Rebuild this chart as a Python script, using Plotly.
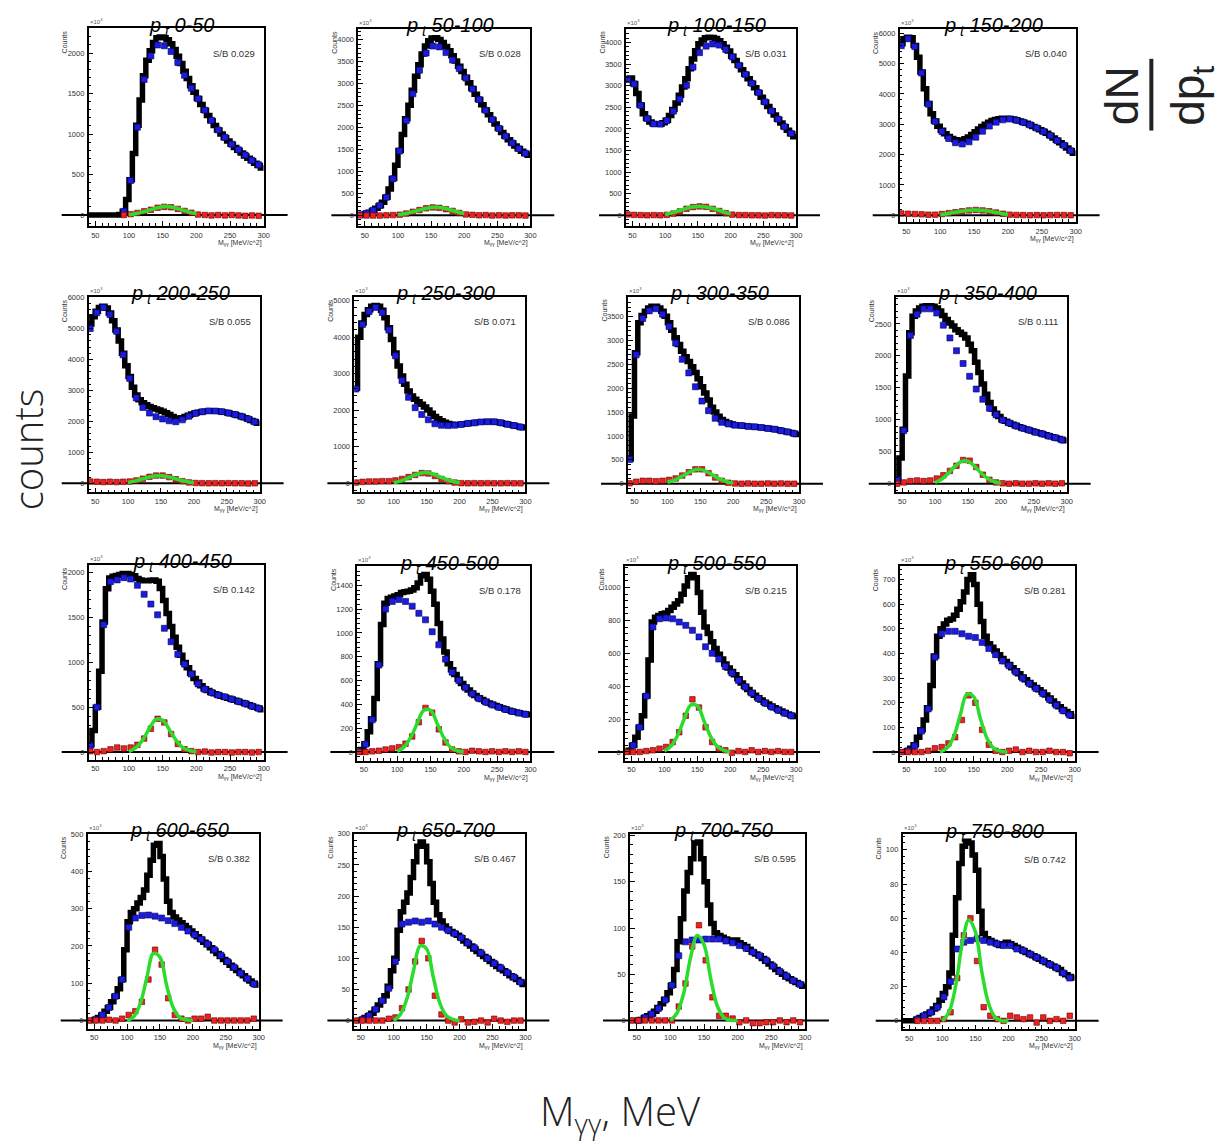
import plotly.graph_objects as go

W, H = 1229, 1146

# ---------------- data ----------------
PT_BINS = ["0-50", "50-100", "100-150", "150-200", "200-250", "250-300", "300-350", "350-400",
           "400-450", "450-500", "500-550", "550-600", "600-650", "650-700", "700-750", "750-800"]
SB_RATIO = ["0.029", "0.028", "0.031", "0.040", "0.055", "0.071", "0.086", "0.111",
            "0.142", "0.178", "0.215", "0.281", "0.382", "0.467", "0.595", "0.742"]
Y_MIN = [-135, -242, -246, -230, -290, -245, -180, -135, -85, -73, -53, -35, -22, -13, -9, -5]
Y_MAX = [2307, 4250, 4314, 6143, 6020, 5100, 3910, 2921, 2089, 1562, 1131, 755, 501, 300, 202, 109]
Y_DTICK = [500, 500, 500, 1000, 1000, 1000, 500, 500, 500, 200, 200, 100, 100, 50, 50, 20]

M_MIN, M_MAX = 40, 300          # MeV/c^2
HIST_BIN = 5                    # histogram bin width
POINT_X0, POINT_STEP = 42.5, 10  # background / signal points
FIT_X = [100, 110, 120, 130, 140, 150, 160, 170, 180, 190, 200]
X_TICK_STEP = 50

hist_000_050 = [0,0,0,0,0,0,0,0,0,5,45,190,435,760,1110,1420,1720,1910,2030,2130,2190,2200,2190,2165,2115,2045,1960,1870,1775,1685,1595,1515,1440,1365,1295,1230,1165,1105,1050,1000,955,915,875,835,800,765,730,700,670,640,610,580]
bkg_000_050 = [None,None,None,None,None,45,425,1085,1675,1965,2100,2090,2020,1885,1725,1567,1435,1295,1170,1050,960,875,805,740,675,620]
sig_000_050 = [None,None,None,None,None,0,10,25,45,65,90,100,95,75,50,28,5,0,-5,0,-5,0,-5,-10,-5,-10]
fit_000_050 = [3,15,35,60,85,102,102,85,60,35,12]

hist_050_100 = [10,20,40,70,110,160,220,300,410,600,840,1140,1480,1840,2200,2510,2850,3170,3430,3680,3860,3980,4040,4050,4010,3940,3850,3750,3640,3520,3400,3280,3150,3020,2890,2760,2640,2520,2400,2290,2180,2080,1980,1890,1800,1720,1650,1580,1520,1460,1410,1370]
bkg_050_100 = [10,45,115,225,410,835,1465,2160,2770,3310,3700,3860,3840,3710,3540,3345,3130,2880,2640,2395,2185,1980,1805,1650,1520,1415]
sig_050_100 = [0,-5,-5,-5,0,5,15,40,80,120,160,180,170,140,100,55,20,10,0,5,-5,0,-5,0,0,-5]
fit_050_100 = [10,35,70,110,150,178,182,160,120,75,35]

hist_100_150 = [3160,3180,3050,2820,2550,2350,2240,2160,2120,2110,2110,2140,2200,2310,2450,2600,2780,2970,3160,3390,3620,3810,3970,4060,4110,4120,4115,4090,4040,3970,3890,3800,3680,3580,3475,3370,3265,3160,3055,2950,2840,2730,2620,2520,2420,2320,2225,2135,2050,1970,1890,1820]
bkg_100_150 = [3140,3040,2545,2240,2115,2110,2190,2410,2690,3010,3430,3765,3915,3965,3940,3840,3665,3470,3260,3055,2840,2625,2415,2225,2050,1895]
sig_100_150 = [20,10,5,0,5,0,10,40,90,150,190,205,195,150,100,50,15,5,5,0,0,-5,5,0,0,-5]
fit_100_150 = [20,55,100,150,190,205,200,170,125,75,30]

hist_150_200 = [5650,5815,5870,5850,5600,5210,4720,4170,3680,3350,3110,2935,2800,2690,2600,2530,2490,2470,2480,2520,2580,2660,2750,2840,2930,3000,3070,3120,3160,3180,3195,3200,3190,3170,3140,3110,3070,3030,2980,2930,2880,2820,2760,2700,2630,2550,2470,2390,2310,2220,2130,2040]
bkg_150_200 = [5590,5820,5560,4690,3660,3090,2760,2530,2390,2350,2420,2575,2770,2940,3070,3145,3170,3130,3065,2980,2875,2760,2625,2460,2305,2130]
sig_150_200 = [60,50,40,30,20,20,40,70,100,130,160,175,160,130,90,50,20,10,5,0,5,0,5,10,5,0]
fit_150_200 = [20,50,90,125,155,170,165,140,100,60,25]

hist_200_250 = [5150,5380,5560,5680,5720,5660,5500,5250,4950,4600,4200,3800,3450,3100,2850,2700,2600,2540,2480,2440,2400,2370,2330,2280,2220,2160,2110,2100,2120,2160,2200,2240,2270,2295,2315,2330,2340,2345,2340,2330,2315,2295,2275,2250,2220,2190,2155,2115,2075,2030,1985,1940]
bkg_200_250 = [5000,5510,5680,5450,4910,4150,3390,2760,2450,2270,2150,2080,2020,1990,2050,2170,2260,2310,2340,2335,2315,2270,2220,2155,2080,1985]
sig_200_250 = [60,50,40,50,40,50,60,90,150,210,250,250,200,130,70,30,10,5,0,5,0,5,0,0,-5,0]
fit_200_250 = [30,70,130,190,235,245,215,160,100,50,20]

hist_250_300 = [2600,4000,4390,4620,4750,4845,4865,4845,4735,4530,4255,3935,3570,3210,2935,2710,2525,2390,2300,2230,2165,2090,2010,1920,1830,1770,1710,1670,1640,1620,1610,1610,1615,1625,1640,1650,1660,1670,1680,1685,1690,1690,1685,1675,1660,1640,1620,1600,1580,1560,1540,1520]
bkg_250_300 = [2580,4350,4700,4815,4675,4195,3490,2815,2355,2070,1885,1740,1630,1590,1580,1590,1610,1640,1655,1680,1685,1685,1660,1615,1580,1540]
sig_250_300 = [20,40,50,50,60,60,80,120,170,230,280,270,200,120,60,20,5,0,5,0,5,0,0,5,0,0]
fit_250_300 = [20,60,130,210,275,295,255,180,105,50,15]

hist_300_350 = [515,1420,2740,3370,3520,3610,3680,3715,3715,3680,3610,3505,3370,3215,3055,2915,2775,2660,2560,2450,2330,2200,2030,1900,1750,1600,1500,1410,1345,1300,1270,1250,1230,1225,1218,1210,1204,1197,1190,1183,1176,1169,1162,1148,1141,1127,1113,1100,1085,1071,1050,1030]
bkg_300_350 = [505,2700,3460,3620,3665,3550,3290,2945,2605,2320,2030,1730,1530,1370,1285,1250,1225,1218,1200,1190,1176,1157,1141,1108,1085,1050]
sig_300_350 = [10,40,60,60,50,60,80,110,170,240,300,300,220,130,60,20,5,0,5,0,0,5,0,5,0,0]
fit_300_350 = [30,70,140,215,285,300,250,170,95,40,12]

hist_350_400 = [60,400,850,1685,2360,2620,2700,2750,2775,2785,2785,2775,2750,2700,2630,2570,2515,2465,2410,2370,2335,2280,2180,2080,1900,1740,1560,1400,1270,1170,1100,1050,1000,975,950,930,910,890,870,855,840,825,810,795,780,765,750,735,720,705,690,670]
bkg_350_400 = [60,830,2320,2650,2735,2735,2670,2480,2280,2080,1880,1680,1480,1320,1180,1080,995,950,905,870,840,805,780,745,720,685]
sig_350_400 = [0,20,40,50,40,50,80,130,200,280,370,360,260,140,60,20,5,0,5,0,0,5,0,5,0,5]
fit_350_400 = [20,70,160,270,350,350,270,165,80,30,8]

hist_400_450 = [80,240,500,900,1450,1820,1940,1960,1970,1980,1990,1990,1980,1965,1935,1920,1910,1910,1915,1920,1905,1825,1690,1545,1400,1280,1170,1080,1000,940,880,820,780,740,705,685,665,650,635,622,610,600,590,578,565,552,540,527,513,500,487,472]
bkg_400_450 = [70,500,1420,1900,1920,1945,1930,1860,1760,1650,1530,1380,1230,1090,980,870,760,700,665,635,615,590,565,540,512,487]
sig_400_450 = [10,0,10,30,50,40,50,80,150,260,370,330,200,90,30,10,0,5,-5,0,0,-5,0,0,-5,0]
fit_400_450 = [5,45,130,260,365,355,250,130,50,15,3]

hist_450_500 = [0,20,70,170,280,450,740,1070,1250,1290,1300,1310,1320,1340,1345,1350,1360,1380,1420,1480,1490,1450,1350,1240,1080,950,840,740,690,650,610,575,545,520,495,475,455,440,425,412,400,390,380,370,360,351,343,336,329,323,318,313]
bkg_450_500 = [5,65,270,730,1200,1265,1280,1265,1225,1165,1110,1010,900,780,670,600,540,488,450,420,396,376,357,340,327,316]
sig_450_500 = [0,0,5,10,20,30,40,70,130,250,370,330,190,80,20,5,0,10,5,0,5,0,5,0,5,0]
fit_450_500 = [5,40,120,240,350,350,240,120,40,10,2]

hist_500_550 = [0,10,40,90,150,220,340,560,790,820,830,840,845,860,880,900,920,960,1010,1060,1080,1060,970,850,760,720,670,630,595,565,535,510,490,470,445,420,400,380,362,345,330,316,303,291,280,269,259,249,240,231,223,215]
bkg_500_550 = [None,40,150,340,760,810,815,810,790,770,740,700,640,600,565,520,480,435,395,358,325,297,274,254,236,220]
sig_500_550 = [0,0,0,5,10,20,30,60,120,220,320,270,150,60,20,10,-5,5,0,10,0,5,0,5,0,0]
fit_500_550 = [5,35,100,200,285,280,190,95,35,10,2]

hist_550_600 = [0,0,5,15,30,60,90,130,180,270,390,470,500,520,535,540,555,580,610,650,700,720,680,600,530,470,440,425,410,395,380,367,355,342,330,318,305,293,282,272,262,253,243,231,219,207,195,184,173,164,155,145]
bkg_550_600 = [None,5,25,85,175,385,480,490,490,480,470,465,445,420,395,370,350,325,300,278,258,238,213,190,168,150]
sig_550_600 = [0,0,0,0,5,15,20,35,60,130,230,200,90,30,5,0,5,10,0,5,0,0,5,0,0,-5]
fit_550_600 = [0,15,60,150,235,225,135,55,15,3,0]

hist_600_650 = [0,0,3,8,15,25,35,50,65,85,110,190,265,290,300,315,330,350,390,430,470,475,440,380,320,290,278,270,262,255,248,240,233,225,218,210,203,195,187,180,172,164,156,148,141,134,127,120,113,106,100,95]
bkg_600_650 = [None,3,15,35,65,110,250,275,282,283,280,275,268,260,250,240,230,218,205,190,175,158,143,127,112,98]
sig_600_650 = [0,0,0,2,0,5,15,25,50,110,190,150,60,15,5,0,5,5,10,0,0,0,0,0,0,5]
fit_600_650 = [0,10,45,115,180,170,95,35,8,2,0]

hist_650_700 = [0,0,1,5,8,12,18,25,32,40,55,80,100,145,175,190,205,230,255,280,287,280,255,220,190,170,160,152,147,143,140,137,133,128,124,120,115,111,107,103,99,95,91,87,83,80,76,72,69,66,62,58]
bkg_650_700 = [None,2,8,18,32,52,95,155,158,160,158,160,155,150,145,140,133,125,117,109,100,92,85,77,70,62]
sig_650_700 = [0,0,0,0,0,3,5,20,50,95,128,100,40,10,0,-3,2,-3,-2,0,-3,3,0,-2,0,0]
fit_650_700 = [0,10,35,80,120,115,70,28,8,2,0]

hist_700_750 = [0,0,0,1,3,5,7,10,14,18,23,30,38,55,85,110,140,160,175,192,193,175,150,125,105,95,92,90,88,87,86,87,84,82,80,77,74,72,70,67,64,61,58,55,52,50,47,45,43,41,39,37]
bkg_700_750 = [None,0,3,7,13,22,38,70,85,87,87,88,88,88,86,84,81,78,74,70,65,59,53,48,43,39]
sig_700_750 = [0,0,0,0,0,0,0,15,40,80,103,65,25,5,5,2,-2,0,-3,-3,-2,-2,0,-2,0,-2]
fit_700_750 = [0,8,30,68,92,82,45,15,3,0,0]

hist_750_800 = [0,0,0,0,1,2,3,4,5,7,9,12,16,20,28,50,72,92,102,105,104,97,88,64,51,48,47,46,45,44,45,46,45,44,43,42,41,40,39,38,37,36,35,34,33,32,31,30,28,27,26,25]
bkg_750_800 = [None,None,1,3,5,8,14,23,42,46,47,48,47,46,45,44,44,42,41,39,37,35,33,31,28,25]
sig_750_800 = [None,None,0,0,0,0,1,5,25,50,60,35,8,3,1,0,3,2,1,2,-1,2,0,1,0,3]
fit_750_800 = [0,5,20,45,59,52,28,10,2,0,0]

HIST = [hist_000_050, hist_050_100, hist_100_150, hist_150_200, hist_200_250, hist_250_300,
        hist_300_350, hist_350_400, hist_400_450, hist_450_500, hist_500_550, hist_550_600,
        hist_600_650, hist_650_700, hist_700_750, hist_750_800]
BKG = [bkg_000_050, bkg_050_100, bkg_100_150, bkg_150_200, bkg_200_250, bkg_250_300,
       bkg_300_350, bkg_350_400, bkg_400_450, bkg_450_500, bkg_500_550, bkg_550_600,
       bkg_600_650, bkg_650_700, bkg_700_750, bkg_750_800]
SIG = [sig_000_050, sig_050_100, sig_100_150, sig_150_200, sig_200_250, sig_250_300,
       sig_300_350, sig_350_400, sig_400_450, sig_450_500, sig_500_550, sig_550_600,
       sig_600_650, sig_650_700, sig_700_750, sig_750_800]
FIT = [fit_000_050, fit_050_100, fit_100_150, fit_150_200, fit_200_250, fit_250_300,
       fit_300_350, fit_350_400, fit_400_450, fit_450_500, fit_500_550, fit_550_600,
       fit_600_650, fit_650_700, fit_700_750, fit_750_800]

# ---------------- layout (pixel frames: left, right, top, bottom) ----------------
FRAMES = [
    (89, 265, 24.3, 222.7), (360, 533, 25, 222.7), (629, 800, 25, 222.7), (904, 1081, 25, 219),
    (89, 261, 294, 490), (356, 528, 294, 490), (631, 803, 294, 490), (900, 1072, 294, 490),
    (89, 265, 562.7, 758.3), (359, 533, 564, 759.3), (628, 800, 564, 759.3), (904, 1080, 564, 759.3),
    (88, 260, 832.7, 1028.3), (356, 528, 832.7, 1028.3), (633, 809, 832.7, 1028.3), (907, 1080, 833.3, 1029),
]

def px(x):
    return x / W

def py(y):
    return 1 - y / H

TICK_FONT = dict(family="Liberation Sans, Arial, sans-serif", size=7.5, color="#333")
SMALL_FONT = "Liberation Sans, Arial, sans-serif"

fig = go.Figure()
layout = dict(width=W, height=H, margin=dict(l=0, r=0, t=0, b=0), autosize=False,
              paper_bgcolor="white", plot_bgcolor="white", showlegend=False)
annotations = []
shapes = []

for k in range(16):
    n = k + 1
    xs = "" if n == 1 else str(n)
    xa, ya = "x" + xs, "y" + xs
    left, right, top, bottom = FRAMES[k]

    hist = HIST[k]
    edges = [M_MIN + HIST_BIN * i for i in range(len(hist) + 1)]
    fig.add_trace(go.Scatter(x=edges, y=hist + [hist[-1]], mode="lines",
                             line=dict(color="black", width=5.5, shape="hv"),
                             xaxis=xa, yaxis=ya, hoverinfo="skip"))
    bkg = BKG[k]
    pts = [POINT_X0 + POINT_STEP * j for j in range(len(bkg))]
    fig.add_trace(go.Scatter(x=pts, y=bkg, mode="markers",
                             marker=dict(symbol="square", size=6, color="#1c1ce0",
                                         line=dict(width=0.6, color="#000060")),
                             xaxis=xa, yaxis=ya, hoverinfo="skip"))
    sig = SIG[k]
    fig.add_trace(go.Scatter(x=pts, y=sig, mode="markers",
                             marker=dict(symbol="square", size=5.5, color="#ee2020",
                                         line=dict(width=0.6, color="#600000")),
                             xaxis=xa, yaxis=ya, hoverinfo="skip"))
    fig.add_trace(go.Scatter(x=FIT_X, y=FIT[k], mode="lines",
                             line=dict(color="#2cdc2c", width=3.5, shape="spline"),
                             xaxis=xa, yaxis=ya, hoverinfo="skip"))

    axis_common = dict(showline=True, linewidth=1.5, linecolor="black", mirror=True,
                       showgrid=False, zeroline=False, ticks="inside", ticklen=5,
                       tickwidth=1, tickcolor="black", tickfont=TICK_FONT,
                       exponentformat="none")
    layout["xaxis" + xs] = dict(axis_common, domain=[px(left), px(right)], anchor=ya,
                                range=[M_MIN, M_MAX], tick0=0, dtick=X_TICK_STEP,
                                ticklabelstandoff=1,
                                minor=dict(dtick=10, ticks="inside", ticklen=3,
                                           tickcolor="black"))
    layout["yaxis" + xs] = dict(axis_common, domain=[py(bottom), py(top)], anchor=xa,
                                range=[Y_MIN[k], Y_MAX[k]], tick0=0, dtick=Y_DTICK[k],
                                ticklabelstandoff=1,
                                minor=dict(dtick=Y_DTICK[k] / 5, ticks="inside",
                                           ticklen=3, tickcolor="black"))

    # extended zero line
    frac = Y_MAX[k] / (Y_MAX[k] - Y_MIN[k])
    y0px = top + frac * (bottom - top)
    shapes.append(dict(type="line", xref="paper", yref="paper",
                       x0=px(left - 27), x1=px(right + 24), y0=py(y0px), y1=py(y0px),
                       line=dict(color="black", width=2), layer="below"))

    cx = (left + right) / 2 + 6
    annotations += [
        dict(text="<i>p<sub> t</sub> " + PT_BINS[k] + "</i>", x=px(cx), y=py(top - 2),
             xref="paper", yref="paper", xanchor="center", yanchor="middle",
             showarrow=False, font=dict(family=SMALL_FONT, size=20, color="black")),
        dict(text="S/B " + SB_RATIO[k], x=px(right - 7), y=py(top + 25),
             xref="paper", yref="paper", xanchor="right", yanchor="middle",
             showarrow=False, font=dict(family=SMALL_FONT, size=9.5, color="#333")),
        dict(text="Counts", x=px(left - 24), y=py(top), textangle=-90,
             xref="paper", yref="paper", xanchor="center", yanchor="top",
             showarrow=False, font=dict(family=SMALL_FONT, size=7, color="#333")),
        dict(text="×10<sup>3</sup>", x=px(left - 1), y=py(top - 1),
             xref="paper", yref="paper", xanchor="left", yanchor="bottom",
             showarrow=False, font=dict(family=SMALL_FONT, size=6, color="#555")),
        dict(text="M<sub>γγ</sub> [MeV/c^2]", x=px(right), y=py(bottom + 11),
             xref="paper", yref="paper", xanchor="right", yanchor="top",
             showarrow=False, font=dict(family=SMALL_FONT, size=7, color="#333")),
    ]

# big labels
annotations += [
    dict(text="counts", x=px(28), y=py(447), textangle=-90, xref="paper", yref="paper",
         xanchor="center", yanchor="middle", showarrow=False,
         font=dict(family="Open Sans, sans-serif", size=40, color="#222", weight=300)),
    dict(text="M<sub>γγ</sub>, MeV", x=px(624), y=py(1112), xref="paper", yref="paper",
         xanchor="center", yanchor="middle", showarrow=False,
         font=dict(family="Open Sans, sans-serif", size=40, color="#222", weight=300)),
    dict(text="dN", x=px(1127), y=py(92), textangle=-90, xref="paper", yref="paper",
         xanchor="center", yanchor="middle", showarrow=False,
         font=dict(family="Liberation Sans, Arial, sans-serif", size=46, color="#222")),
    dict(text="dp<sub>t</sub>", x=px(1198), y=py(92), textangle=-90, xref="paper", yref="paper",
         xanchor="center", yanchor="middle", showarrow=False,
         font=dict(family="Liberation Sans, Arial, sans-serif", size=46, color="#222")),
]
shapes.append(dict(type="line", xref="paper", yref="paper", x0=px(1157), x1=px(1157),
                   y0=py(55), y1=py(127), line=dict(color="#222", width=4)))

layout["annotations"] = annotations
layout["shapes"] = shapes
fig.update_layout(**layout)
fig.write_html("out.html")
